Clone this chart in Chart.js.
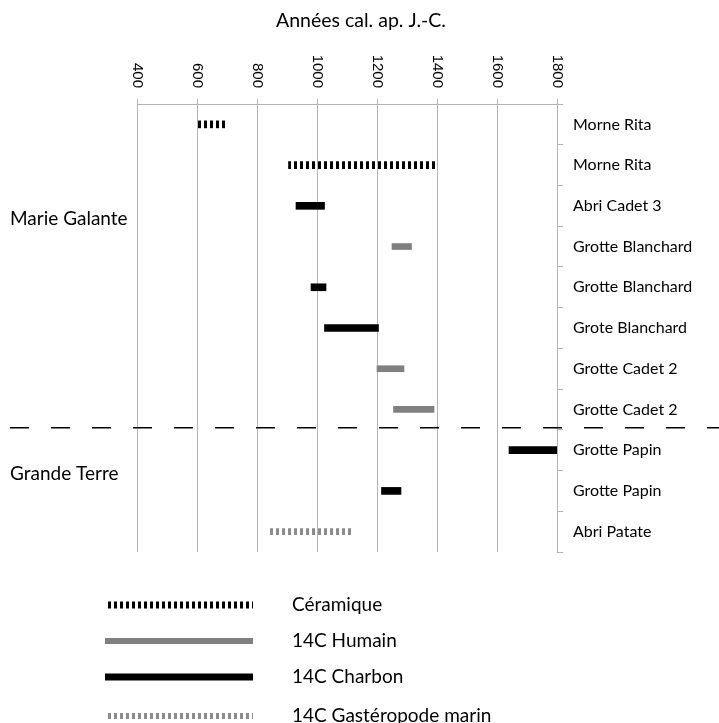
<!DOCTYPE html>
<html>
<head>
<meta charset="utf-8">
<script src="https://cdn.jsdelivr.net/npm/chart.js@4.4.1/dist/chart.umd.min.js"></script>
<style>
  html, body { margin: 0; padding: 0; background: #fff; }
  #wrap { width: 719px; height: 723px; }
</style>
</head>
<body>
<div id="wrap"><canvas id="myChart"></canvas></div>
<script>
// sites, top to bottom
const sites = ['Morne Rita', 'Morne Rita', 'Abri Cadet 3', 'Grotte Blanchard', 'Grotte Blanchard',
  'Grote Blanchard', 'Grotte Cadet 2', 'Grotte Cadet 2', 'Grotte Papin', 'Grotte Papin', 'Abri Patate'];

// date ranges [from, to] (années cal. ap. J.-C.)
const ceramique = [[600, 700], [905, 1400], null, null, null, null, null, null, null, null, null];
const humain = [null, null, null, [1250, 1315], null, null, [1200, 1290], [1255, 1390], null, null, null];
const charbon = [null, null, [930, 1025], null, [980, 1030], [1025, 1205], null, null, [1640, 1800], [1215, 1280], null];
const gasteropode = [null, null, null, null, null, null, null, null, null, null, [835, 1115]];

const yearTicks = [400, 600, 800, 1000, 1200, 1400, 1600, 1800];
const groups = ['Marie Galante', 'Grande Terre'];
const legendNames = ['Céramique', '14C Humain', '14C Charbon', '14C Gastéropode marin'];

// striped fill for the dashed bars
function stripes(color, dash, gap) {
    const c = document.createElement('canvas');
    c.width = dash + gap;
    c.height = 4;
    const g = c.getContext('2d');
    g.fillStyle = color;
    g.fillRect(0, 0, dash, 4);
    return g.createPattern(c, 'repeat');
}

const black = '#000000';
const grey = '#808080';
const gridGrey = '#b3b3b3';

const textFont = '"Lato", "Open Sans", sans-serif';

// texts, group labels, separator and legend
const extras = {
    id: 'extras',
    afterDraw(chart) {
        const ctx = chart.ctx;
        const xs = chart.scales.x;
        const ys = chart.scales.y;
        ctx.save();

        // title
        ctx.fillStyle = '#000';
        ctx.font = '19.5px ' + textFont;
        ctx.textAlign = 'center';
        ctx.textBaseline = 'middle';
        ctx.fillText('Années cal. ap. J.-C.', 361, 21);

        // rotated year labels
        ctx.font = '15px "Liberation Sans", Arial, sans-serif';
        yearTicks.forEach((v) => {
            ctx.save();
            ctx.translate(xs.getPixelForValue(v), 88);
            ctx.rotate(Math.PI / 2);
            ctx.textAlign = 'right';
            ctx.textBaseline = 'middle';
            ctx.fillText(String(v), 0, 0);
            ctx.restore();
        });

        // group labels
        ctx.font = '19px ' + textFont;
        ctx.textAlign = 'left';
        ctx.fillText(groups[0], 10, 219);
        ctx.fillText(groups[1], 10, 474);

        // separator between the two islands
        const sepY = (ys.getPixelForValue(7) + ys.getPixelForValue(8)) / 2 - 2;
        ctx.strokeStyle = '#000';
        ctx.lineWidth = 1.5;
        ctx.setLineDash([19, 22]);
        ctx.beginPath();
        ctx.moveTo(10, sepY);
        ctx.lineTo(719, sepY);
        ctx.stroke();
        ctx.setLineDash([]);

        // legend
        const rows = [605, 641, 677, 716];
        chart.data.datasets.forEach((ds, i) => {
            const h = ds.barThickness;
            ctx.fillStyle = ds.backgroundColor;
            ctx.fillRect(105, rows[i] - h / 2, 148, h);
            ctx.fillStyle = '#000';
            ctx.font = '19px ' + textFont;
            ctx.textAlign = 'left';
            ctx.textBaseline = 'middle';
            ctx.fillText(ds.label, 292, rows[i]);
        });
        ctx.restore();
    }
};

const ctx = document.getElementById('myChart').getContext('2d');
const myChart = new Chart(ctx, {
    type: 'bar',
    data: {
        labels: sites,
        datasets: [{
            label: legendNames[0],
            data: ceramique,
            backgroundColor: stripes(black, 3, 3),
            barThickness: 7
        }, {
            label: legendNames[1],
            data: humain,
            backgroundColor: grey,
            barThickness: 6
        }, {
            label: legendNames[2],
            data: charbon,
            backgroundColor: black,
            barThickness: 7
        }, {
            label: legendNames[3],
            data: gasteropode,
            backgroundColor: stripes('#8c8c8c', 3, 3),
            barThickness: 6
        }]
    },
    options: {
        indexAxis: 'y',
        responsive: true,
        maintainAspectRatio: false,
        animation: false,
        grouped: false,
        borderWidth: 0,
        borderSkipped: false,
        layout: { padding: { top: 99, bottom: 171, left: 137, right: 0 } },
        plugins: {
            legend: { display: false },
            title: { display: false },
            tooltip: { enabled: false }
        },
        scales: {
            x: {
                position: 'top',
                min: yearTicks[0],
                max: yearTicks[yearTicks.length - 1],
                afterBuildTicks: (scale) => {
                    scale.ticks = yearTicks.map((v) => ({ value: v }));
                },
                afterFit: (scale) => { scale.height = 5; },
                ticks: { display: false },
                grid: { color: gridGrey, lineWidth: 1, tickLength: 5 },
                border: { color: gridGrey, width: 1 }
            },
            y: {
                position: 'right',
                afterFit: (scale) => { scale.width = 162; },
                ticks: {
                    color: '#000',
                    padding: 10,
                    font: { family: textFont, size: 16 }
                },
                grid: { drawOnChartArea: false, tickLength: 6, color: gridGrey, offset: true },
                border: { color: gridGrey, width: 1 }
            }
        }
    },
    plugins: [extras]
});
</script>
</body>
</html>
